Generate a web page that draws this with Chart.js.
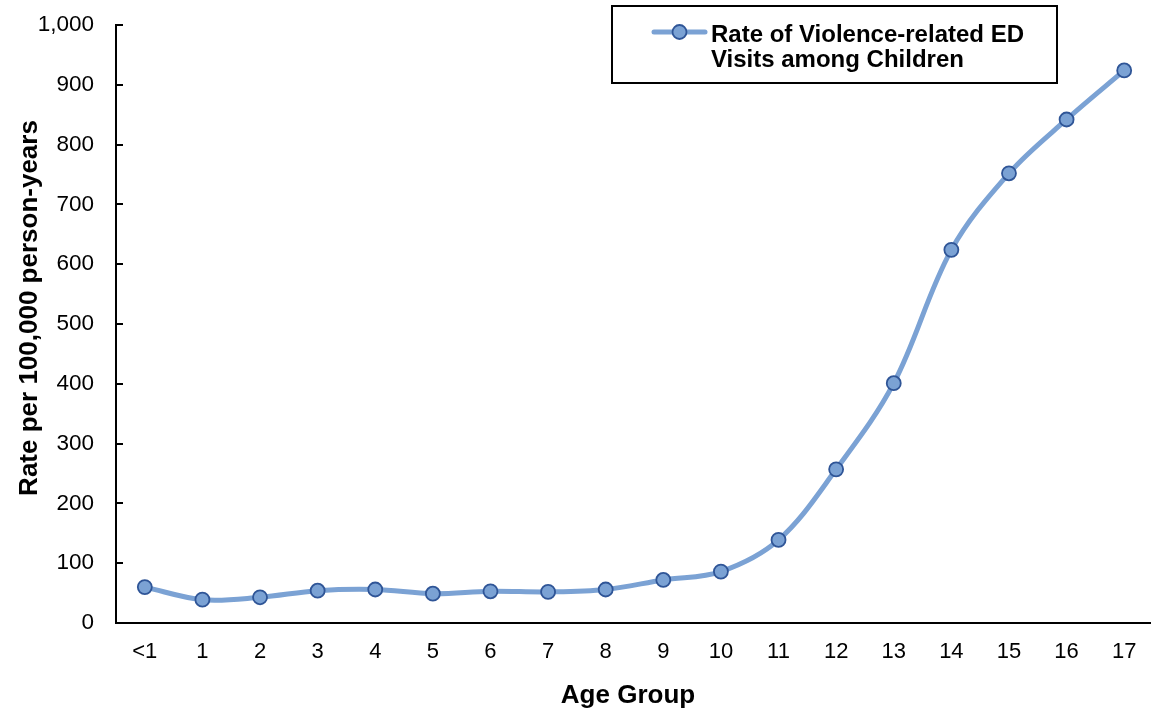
<!DOCTYPE html>
<html>
<head>
<meta charset="utf-8">
<script src="https://cdn.jsdelivr.net/npm/chart.js@4/dist/chart.umd.min.js"></script>
<style>
  html, body { margin: 0; padding: 0; background: #ffffff; overflow: hidden; }
  #wrap { position: relative; width: 1153px; height: 712px; }
  canvas { display: block; }
</style>
</head>
<body>
<div id="wrap"><canvas id="chart" width="1153" height="712"></canvas></div>
<script>
// Age groups on the horizontal axis
const ageGroups = ['<1', '1', '2', '3', '4', '5', '6', '7', '8', '9', '10', '11', '12', '13', '14', '15', '16', '17'];
// Violence-related ED visit rate per 100,000 person-years
const visitRates = [60, 39, 43, 54, 56, 49, 53, 52, 56, 72, 86, 139, 257, 401, 624, 752, 842, 924];
const seriesLabel = ['Rate of Violence-related ED', 'Visits among Children'];
const yTitle = 'Rate per 100,000 person-years';
const xTitle = 'Age Group';

const FONT = 'Arial, "Liberation Sans", Helvetica, sans-serif';
const LINE_COLOR = '#7BA2D4';
const POINT_FILL = '#7BA2D4';
const POINT_EDGE = '#2F5597';

// Inward tick marks on the value axis, axis titles and the boxed legend
const decorations = {
  id: 'decorations',
  afterDraw(chart) {
    const ctx = chart.ctx;
    const y = chart.scales.y;
    const area = chart.chartArea;
    ctx.save();
    ctx.strokeStyle = '#000';
    ctx.lineWidth = 2;
    y.ticks.forEach(t => {
      const py = Math.round(y.getPixelForValue(t.value));
      ctx.beginPath();
      ctx.moveTo(area.left, py);
      ctx.lineTo(area.left + 7, py);
      ctx.stroke();
    });

    // axis titles
    ctx.fillStyle = '#000';
    ctx.font = 'bold 26px ' + FONT;
    ctx.textAlign = 'center';
    ctx.textBaseline = 'alphabetic';
    ctx.fillText(xTitle, 628, 703);
    ctx.save();
    ctx.translate(37, 308);
    ctx.rotate(-Math.PI / 2);
    ctx.fillText(yTitle, 0, 0);
    ctx.restore();

    // legend box
    ctx.lineWidth = 2;
    ctx.strokeRect(612, 6, 445, 77);
    ctx.strokeStyle = LINE_COLOR;
    ctx.lineWidth = 5;
    ctx.lineCap = 'round';
    ctx.beginPath();
    ctx.moveTo(654, 32);
    ctx.lineTo(705, 32);
    ctx.stroke();
    ctx.beginPath();
    ctx.arc(679.5, 32, 7, 0, Math.PI * 2);
    ctx.fillStyle = POINT_FILL;
    ctx.fill();
    ctx.lineWidth = 1.8;
    ctx.strokeStyle = POINT_EDGE;
    ctx.stroke();
    ctx.fillStyle = '#000';
    ctx.font = 'bold 24px ' + FONT;
    ctx.textAlign = 'left';
    ctx.fillText(seriesLabel[0], 711, 41.5);
    ctx.fillText(seriesLabel[1], 711, 66.5);
    ctx.restore();
  }
};

new Chart(document.getElementById('chart'), {
  type: 'line',
  data: {
    labels: ageGroups,
    datasets: [{
      label: seriesLabel.join(' '),
      data: visitRates,
      borderColor: LINE_COLOR,
      borderWidth: 5,
      tension: 0.35,
      pointRadius: 7,
      pointBackgroundColor: POINT_FILL,
      pointBorderColor: POINT_EDGE,
      pointBorderWidth: 1.8,
      fill: false,
      clip: false
    }]
  },
  options: {
    responsive: false,
    animation: false,
    devicePixelRatio: 1,
    layout: { autoPadding: false, padding: { top: 25, right: 0, bottom: 0, left: 0 } },
    plugins: { legend: { display: false }, tooltip: { enabled: false } },
    scales: {
      x: {
        offset: true,
        grid: { display: false, drawTicks: false },
        border: { color: '#000', width: 2 },
        ticks: { color: '#000', font: { family: FONT, size: 22 }, padding: 16, maxRotation: 0, autoSkip: false },
        afterFit(s) { s.height = 89; s.paddingLeft = 0; s.paddingRight = 0; }
      },
      y: {
        min: 0,
        max: 1000,
        grid: { display: false, drawTicks: false },
        border: { color: '#000', width: 2 },
        ticks: {
          stepSize: 100,
          color: '#000',
          font: { family: FONT, size: 22.5 },
          padding: 22,
          callback: v => v.toLocaleString('en-US')
        },
        afterFit(s) { s.width = 116; s.paddingTop = 0; s.paddingBottom = 0; }
      }
    }
  },
  plugins: [decorations]
});
</script>
</body>
</html>
